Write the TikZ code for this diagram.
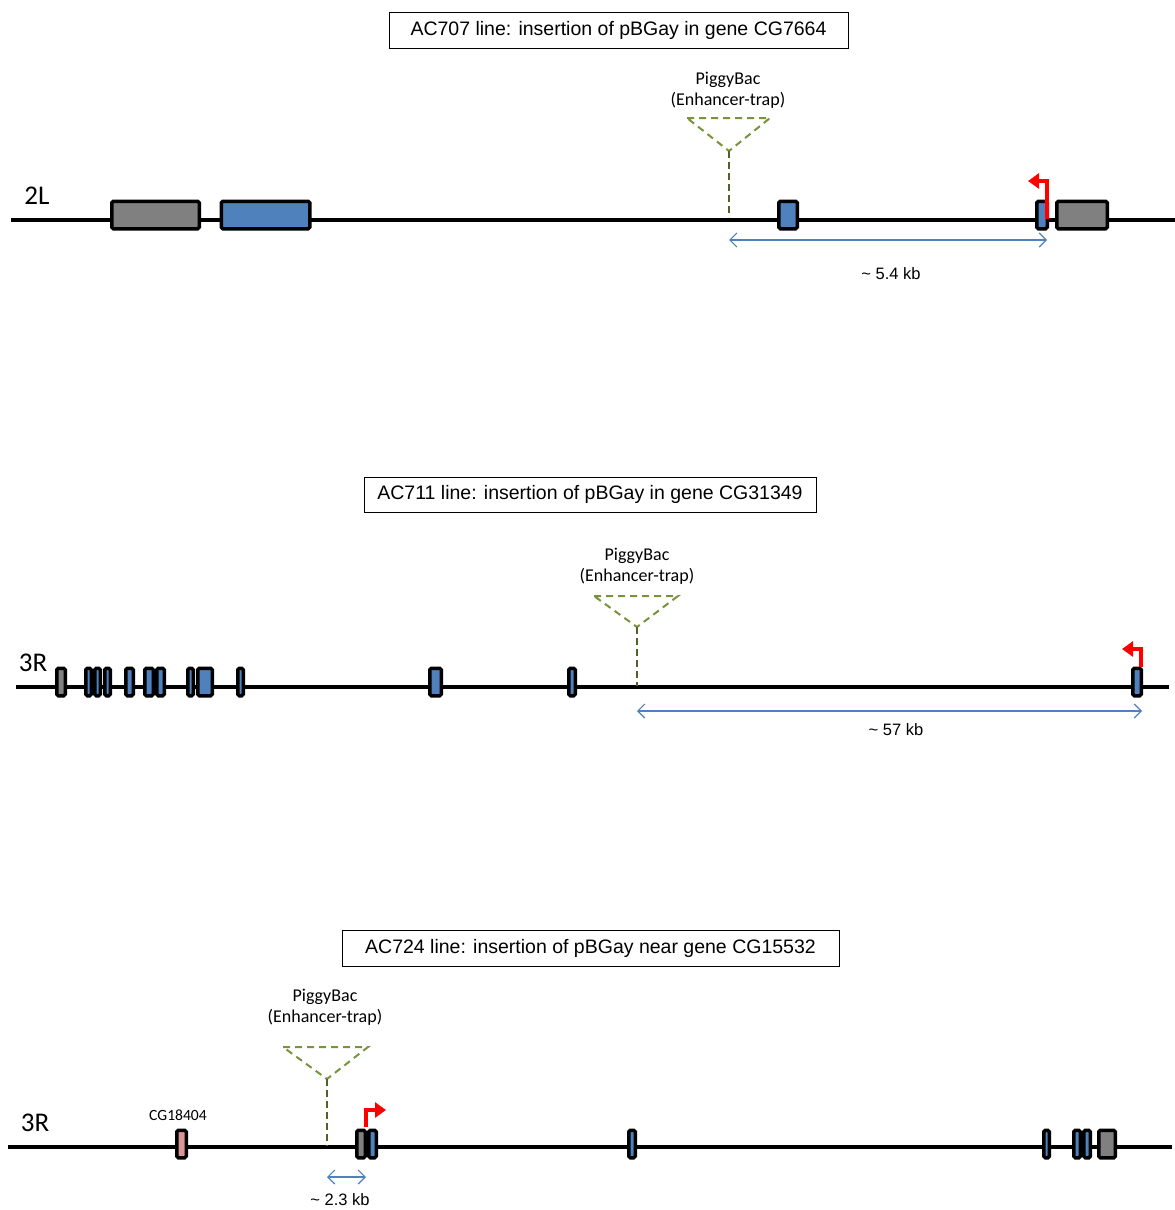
\documentclass[tikz,border=0pt]{standalone}
\usepackage{fontspec}
\setmainfont{Liberation Sans}
\newfontfamily\calibri{Carlito}
\usetikzlibrary{arrows.meta}
\definecolor{exonblue}{HTML}{4F81BD}
\definecolor{exongrey}{HTML}{808080}
\definecolor{exonpink}{HTML}{D99694}
\definecolor{trapgreen}{HTML}{77933C}
\definecolor{trapdark}{HTML}{4F6228}
\definecolor{spanblue}{HTML}{4F81BD}
\begin{document}
\begin{tikzpicture}[x=1pt,y=-1pt,
  chrom/.style={line width=4pt,black},
  exon/.style={draw=black,line width=3.5pt,rounded corners=1.5pt,inner sep=0pt,minimum height=27.5pt},
  cds/.style={exon,fill=exonblue},
  utr/.style={exon,fill=exongrey},
  other/.style={exon,fill=exonpink},
  titlebox/.style={draw=black,line width=0.8pt,inner sep=0pt,font=\fontsize{19.5}{22}\selectfont},
  chrlabel/.style={font=\calibri\fontsize{27}{29}\selectfont},
  translabel/.style={font=\calibri\fontsize{18}{21}\selectfont,align=center},
  smalllabel/.style={font=\calibri\fontsize{15.6}{17}\selectfont},
  sizelabel/.style={font=\fontsize{16.5}{18}\selectfont},
  trap/.style={trapgreen,line width=2pt,dash pattern=on 7pt off 5pt},
  trapstem/.style={trapdark,line width=1.3pt,dash pattern=on 7pt off 4pt},
  tss/.style={red,line width=4pt,-{Triangle[length=11pt,width=15pt]}},
  span/.style={spanblue,line width=1.2pt,{Straight Barb[length=7pt,width=14pt]}-{Straight Barb[length=7pt,width=14pt]}}
]
\useasboundingbox (0,0) rectangle (1175,1210);

% ---------------- 2L : AC707 ----------------
\node[titlebox,minimum width=459pt,minimum height=36pt] (t1) at (618.5,30) {AC707 line: insertion of pBGay in gene CG7664};
\coordinate (c1s) at (11,219.5);
\coordinate (c1e) at (1175,219.5);
\draw[chrom] (c1s) -- (c1e);
\node[chrlabel] (l1) at (37,196) {2L};
\node[utr,minimum width=87.5pt] (a1) at (155.5,215) {};
\node[cds,minimum width=88.5pt] (a2) at (265.5,215) {};
\node[cds,minimum width=18.5pt] (a3) at (788,215) {};
\node[cds,minimum width=10.5pt] (a4) at (1042,215) {};
\node[utr,minimum width=50.5pt] (a5) at (1082,215) {};
% transposon insertion
\node[translabel] (p1) at (728,90) {PiggyBac\\(Enhancer-trap)};
\coordinate (p1l) at (687,118);
\coordinate (p1r) at (770,118);
\coordinate (p1a) at (729,151);
\coordinate (ins1) at (729,217);
\draw[trap] (p1l) -- (p1r) -- (p1a) -- cycle;
\draw[trapstem] (p1a) -- (ins1);
% transcription start
\coordinate (s1) at (1047,219);
\coordinate (s1t) at (1028,181);
\draw[tss] (s1) |- (s1t);
\coordinate (d1a) at (729,240);
\coordinate (d1b) at (1047,240);
\draw[span] (d1a) -- (d1b);
\node[sizelabel] (k1) at (891,274) {\textasciitilde\ 5.4 kb};

% ---------------- 3R : AC711 ----------------
\node[titlebox,minimum width=452pt,minimum height=35pt] (t2) at (590,494.5) {AC711 line: insertion of pBGay in gene CG31349};
\coordinate (c2s) at (16,687);
\coordinate (c2e) at (1169,687);
\draw[chrom] (c2s) -- (c2e);
\node[chrlabel] (l2) at (33,663) {3R};
\node[utr,minimum width=8.5pt] (b1) at (61,682) {};
\node[cds,minimum width=5.5pt] (b2) at (88.5,682) {};
\node[cds,minimum width=5.5pt] (b3) at (97.5,682) {};
\node[cds,minimum width=5.5pt] (b4) at (107.5,682) {};
\node[cds,minimum width=7.5pt] (b5) at (129.5,682) {};
\node[cds,minimum width=8.5pt] (b6) at (149,682) {};
\node[cds,minimum width=7.5pt] (b7) at (160.5,682) {};
\node[cds,minimum width=5.5pt] (b8) at (190.5,682) {};
\node[cds,minimum width=14.5pt] (b9) at (205,682) {};
\node[cds,minimum width=5.5pt] (b10) at (240.5,682) {};
\node[cds,minimum width=11.5pt] (b11) at (435.5,682) {};
\node[cds,minimum width=6.5pt] (b12) at (572,682) {};
\node[cds,minimum width=8.5pt] (b13) at (1137,682) {};
\node[translabel] (p2) at (637,566.5) {PiggyBac\\(Enhancer-trap)};
\coordinate (p2l) at (594,596);
\coordinate (p2r) at (678,596);
\coordinate (p2a) at (637,627);
\coordinate (ins2) at (637,686);
\draw[trap] (p2l) -- (p2r) -- (p2a) -- cycle;
\draw[trapstem] (p2a) -- (ins2);
\coordinate (s2) at (1141,667);
\coordinate (s2t) at (1122,649);
\draw[tss] (s2) |- (s2t);
\coordinate (d2a) at (637,711);
\coordinate (d2b) at (1142,711);
\draw[span] (d2a) -- (d2b);
\node[sizelabel] (k2) at (896,730) {\textasciitilde\ 57 kb};

% ---------------- 3R : AC724 ----------------
\node[titlebox,minimum width=497pt,minimum height=36pt] (t3) at (590.5,948) {AC724 line: insertion of pBGay near gene CG15532};
\coordinate (c3s) at (8,1147);
\coordinate (c3e) at (1172,1147);
\draw[chrom] (c3s) -- (c3e);
\node[chrlabel] (l3) at (35,1123) {3R};
\node[smalllabel] (g3) at (178,1115) {CG18404};
\node[other,minimum width=9.5pt] (e1) at (181.5,1144) {};
\node[utr,minimum width=8.5pt] (e2) at (361,1144) {};
\node[cds,minimum width=7.5pt] (e3) at (372.5,1144) {};
\node[cds,minimum width=6.5pt] (e4) at (632,1144) {};
\node[cds,minimum width=5.5pt] (e5) at (1046.5,1144) {};
\node[cds,minimum width=6.5pt] (e6) at (1077,1144) {};
\node[cds,minimum width=6.5pt] (e7) at (1087,1144) {};
\node[utr,minimum width=16.5pt] (e8) at (1107,1144) {};
\node[translabel] (p3) at (325,1007.5) {PiggyBac\\(Enhancer-trap)};
\coordinate (p3l) at (283,1047);
\coordinate (p3r) at (368,1047);
\coordinate (p3a) at (327,1079);
\coordinate (ins3) at (327,1146);
\draw[trap] (p3l) -- (p3r) -- (p3a) -- cycle;
\draw[trapstem] (p3a) -- (ins3);
\coordinate (s3) at (366,1127);
\coordinate (s3t) at (386,1110);
\draw[tss] (s3) |- (s3t);
\coordinate (d3a) at (327,1177);
\coordinate (d3b) at (366,1177);
\draw[span] (d3a) -- (d3b);
\node[sizelabel] (k3) at (340,1200) {\textasciitilde\ 2.3 kb};
\end{tikzpicture}
\end{document}
